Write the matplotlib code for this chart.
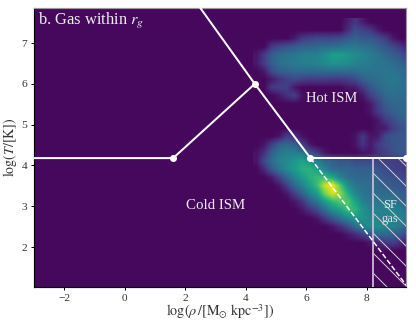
#!/usr/bin/python
# phase diagram of gas within r_g
import matplotlib
matplotlib.use('Agg')
import matplotlib.pyplot as plt
import numpy as np

plt.rcParams['font.family'] = ['Liberation Serif', 'DejaVu Serif']
plt.rcParams['mathtext.fontset'] = 'stix'
plt.rcParams['hatch.linewidth'] = 0.6

# binned density, top row first (0 = empty, 10 = peak)
dens_xlim = [4.25, 9.5]
dens_ylim = [1.8, 7.6]
density = [
    [0, 0, 0, 0, 0, 0, 0, 0, 0, 0, 0, 0, 0.6, 1.4, 0.6, 0, 0, 0, 0, 0, 0],
    [0, 0, 0, 0, 0, 0, 0, 0, 0, 0, 0, 0, 1, 2.2, 1.8, 1.5, 0.5, 0, 0, 0, 0],
    [0, 0, 0, 0, 0, 0.5, 1.5, 1.8, 2, 2, 2, 2.2, 2.6, 3, 2.6, 2.6, 2.2, 1.6, 0.5, 0, 0],
    [0, 0, 1.5, 2, 2.4, 2.7, 3, 3, 3.2, 3.4, 3.4, 3.6, 3.9, 3.9, 3.6, 3.4, 3, 2.5, 2, 1.4, 0.5],
    [0.4, 1.6, 2.8, 3.4, 3.6, 3.8, 4.1, 4.2, 4.2, 4.8, 5.4, 5.5, 5.1, 4.7, 4.4, 4, 3.7, 3.2, 2.8, 2.4, 1.6],
    [0.5, 1.7, 2.9, 3.5, 3.8, 4, 4.2, 4.2, 4.4, 4.7, 5, 5, 4.8, 4.4, 4.2, 4, 3.7, 3.7, 3.4, 3, 2.4],
    [0, 0.5, 2.1, 2.9, 3.1, 3.3, 3.3, 3.3, 3.3, 3.4, 3.4, 3.4, 3.4, 3.4, 3.7, 3.7, 3.7, 3.7, 3.7, 3.5, 3],
    [0, 0, 0.5, 1.2, 1.7, 2.1, 1.8, 1.6, 1.6, 1.6, 1.5, 1.5, 1.7, 2.1, 2.9, 3.3, 3.5, 3.7, 3.9, 3.6, 3.2],
    [0, 0, 1.5, 1.7, 1.7, 0.4, 0, 0, 0, 0, 0, 0, 0.4, 0.5, 1.5, 2.5, 3.1, 3.6, 3.7, 3.6, 3.2],
    [0, 0, 0, 0.5, 1.2, 1.7, 0.3, 0, 0, 0, 0, 0, 0, 0, 0.4, 1.7, 2.5, 3.2, 3.5, 3.4, 3.2],
    [0, 0, 0, 0, 0, 0, 0, 0, 0, 0, 0, 0, 0, 0, 0, 0.5, 1.7, 2.8, 3.2, 3.2, 3],
    [0, 0, 0, 0, 0, 0, 0, 0, 0, 0, 0, 0, 0, 0, 0, 0.4, 1.5, 2.3, 2.9, 3.2, 3.2],
    [0, 0, 0, 0, 0, 0, 0, 0, 0, 0, 0, 0, 0, 0, 0, 0, 0.4, 1.5, 2.1, 2.8, 2.9],
    [0, 0, 0, 0, 0, 0, 0, 0, 0, 0, 0, 0, 0, 0, 0, 0, 0.4, 0.5, 1.7, 2.3, 2.4],
    [0, 0, 0, 0.4, 1.7, 1.2, 0.3, 0, 0, 0, 0, 0, 0, 0.3, 1.5, 0.4, 0.5, 2.1, 2.4, 2.6, 2.4],
    [0, 0.4, 1.7, 2.9, 3.3, 2.9, 1.7, 0.4, 0, 0, 0, 0, 0, 0.3, 1.3, 0.5, 1.5, 2.1, 2.4, 2.6, 2.4],
    [0.3, 1.2, 2.9, 3.8, 4.2, 4.2, 3.8, 2.5, 1.5, 0.4, 0, 0, 0, 0, 0.3, 0.4, 1.2, 1.7, 2.3, 2.6, 2.6],
    [0.4, 2.1, 3.4, 4.3, 4.7, 5.2, 5.7, 5.2, 4.1, 3.3, 2.9, 2.5, 2.5, 2.1, 2.1, 2.1, 1.8, 1.7, 1.7, 1.5, 1.2],
    [0, 1, 2.7, 3.8, 4.7, 5.4, 6.2, 6.4, 5.5, 4.3, 3.4, 3.2, 3.2, 2.9, 2.9, 2.9, 2.5, 2.1, 1.8, 1.7, 1.2],
    [0, 0, 0.5, 1.9, 3.2, 4.4, 5.4, 6.2, 6.7, 6.8, 5.8, 4.4, 3.5, 3.3, 3.2, 3.2, 2.9, 2.5, 2.3, 2.1, 1.7],
    [0, 0, 0, 0.4, 1.7, 3.2, 4.3, 5.5, 6.8, 9.2, 10, 7.4, 4.9, 3.8, 3.5, 3.5, 3.2, 2.9, 2.6, 2.5, 2.1],
    [0, 0, 0, 0, 0.4, 1.7, 2.9, 4.3, 5.5, 7.8, 9.4, 8.3, 6.3, 4.5, 3.8, 3.5, 3.4, 3.4, 3.4, 2.9, 2.5],
    [0, 0, 0, 0, 0, 0.4, 1.2, 2.7, 3.8, 5.3, 6.5, 7.3, 7.3, 5.8, 4.3, 3.8, 3.8, 3.8, 3.8, 3.3, 2.9],
    [0, 0, 0, 0, 0, 0, 0.4, 1.2, 2.1, 3.4, 4.8, 5.5, 6.8, 6.5, 5.1, 4.3, 4.3, 4.3, 4.3, 4.1, 3.2],
    [0, 0, 0, 0, 0, 0, 0, 0, 0.4, 1.5, 2.5, 3.6, 4.5, 5.3, 5.1, 4.5, 4.3, 4.3, 4.3, 4.3, 3.8],
    [0, 0, 0, 0, 0, 0, 0, 0, 0, 0, 0.4, 1.2, 2.1, 3.4, 4.3, 4.8, 4.8, 4.3, 4.3, 3.8, 2.9],
    [0, 0, 0, 0, 0, 0, 0, 0, 0, 0, 0, 0, 0.4, 1, 1.7, 2.5, 3.2, 3.2, 2.9, 2.5, 1.7],
    [0, 0, 0, 0, 0, 0, 0, 0, 0, 0, 0, 0, 0, 0, 0, 0.4, 0.8, 1.4, 1.7, 1, 0.3],
    [0, 0, 0, 0, 0, 0, 0, 0, 0, 0, 0, 0, 0, 0, 0, 0, 0, 0, 0, 0, 0],
]

# phase boundaries
top_line_x = [2.5, 4.3, 6.14]
top_line_y = [7.86, 6.0, 4.18]
cold_line_x = [-3, 1.6, 4.3]
cold_line_y = [4.18, 4.18, 6.0]
sf_line_x = [6.14, 9.3]
sf_line_y = [4.18, 4.18]
dash_line_x = [6.14, 9.3]
dash_line_y = [4.18, 1.07]
knot_x = [1.6, 4.3, 6.14, 9.3]
knot_y = [4.18, 6.0, 4.18, 4.18]
sf_rho = 8.2

xticks = [-2, 0, 2, 4, 6, 8]
yticks = [2, 3, 4, 5, 6, 7]

dpi = 120
fig = plt.figure(figsize=(416 / dpi, 327 / dpi), dpi=dpi)
ax = fig.add_axes([34 / 416, 1 - 287 / 327, 372 / 416, 279 / 327])
ax.set_facecolor(plt.cm.viridis(0.02))

ax.imshow(np.array(density), cmap='viridis', vmin=-0.2, vmax=10, interpolation='bilinear',
          extent=[dens_xlim[0], dens_xlim[1], dens_ylim[0], dens_ylim[1]], aspect='auto', zorder=1)

# star forming box
ax.fill_between([sf_rho, 9.3], 1.02, 4.18, facecolor='none', edgecolor='#cfcfcf', hatch='\\\\', linewidth=0, zorder=2)
ax.plot([sf_rho, sf_rho], [1.02, 4.18], color='#c9b6d6', lw=1.1, zorder=3)

ax.plot(top_line_x, top_line_y, color='white', lw=1.2, zorder=4)
ax.plot(cold_line_x, cold_line_y, color='white', lw=1.2, zorder=4)
ax.plot(sf_line_x, sf_line_y, color='white', lw=1.2, zorder=4)
ax.plot(dash_line_x, dash_line_y, color='white', lw=0.9, ls=(0, (3.5, 1.5)), zorder=4)
ax.plot(knot_x, knot_y, 'o', color='white', ms=3.2, zorder=5, clip_on=False)

ax.set_xlim(-3, 9.3)
ax.set_ylim(1.02, 7.86)
ax.set_xticks(xticks)
ax.set_yticks(yticks)
ax.tick_params(labelsize=6.8, length=2, width=0.6, pad=2, labelcolor='#333333')
ax.set_xlabel(r'$\log(\rho\,/[\mathrm{M}_{\odot}\ \mathrm{kpc}^{-3}])$', fontsize=8.5, labelpad=0, color='#333333')
ax.set_ylabel(r'$\log(T/[\mathrm{K}])$', fontsize=8.4, labelpad=1.5, color='#333333')
for s in ['top', 'right']:
    ax.spines[s].set_color('#999999')
for s in ax.spines.values():
    s.set_linewidth(0.7)

ax.text(0.012, 0.99, r'b. Gas within $r_g$', transform=ax.transAxes, color='#eeeeee', fontsize=9.9, va='top', ha='left', zorder=6)
ax.text(3.0, 3.02, 'Cold ISM', color='#eeeeee', fontsize=8.9, ha='center', va='center', zorder=6)
ax.text(6.85, 5.63, 'Hot ISM', color='#eeeeee', fontsize=8.7, ha='center', va='center', zorder=6)
ax.text(8.78, 3.02, 'SF', color='#eeeeee', fontsize=7.5, ha='center', va='center', zorder=6)
ax.text(8.78, 2.68, 'gas', color='#e0e0e0', fontsize=7.5, ha='center', va='center', zorder=6)

fig.savefig('out.png', dpi=dpi)
